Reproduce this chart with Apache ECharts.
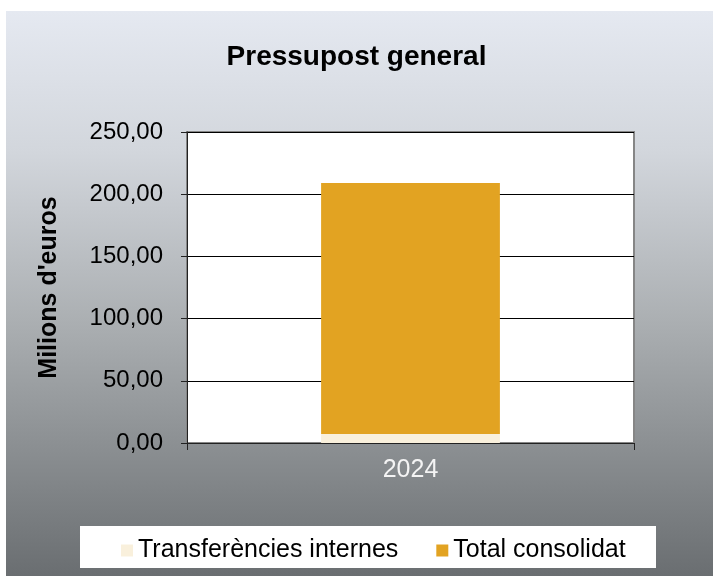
<!DOCTYPE html>
<html>
<head>
<meta charset="utf-8">
<script src="https://cdn.jsdelivr.net/npm/echarts@6/dist/echarts.min.js"></script>
<style>
	html, body { margin: 0; padding: 0; background: #fff; }
	#chart { width: 713px; height: 576px; }
</style>
</head>
<body>
<div id="chart"></div>
<script>
	var years = ['2024'];
	var seriesNames = ['Transferències internes', 'Total consolidat'];
	var transferencies = [7.2];
	var totalConsolidat = [201.8];
	var yTicks = [0, 50, 100, 150, 200, 250];

	var font = '"Liberation Sans", Arial, sans-serif';

	function fmt(v) { return v.toFixed(2).replace('.', ','); }

	var chart = echarts.init(document.getElementById('chart'));
	chart.setOption({
		animation: false,
		textStyle: { fontFamily: font },
		graphic: [
			{
				type: 'rect', z: -10, silent: true,
				shape: { x: 6, y: 11, width: 707, height: 565 },
				style: {
					fill: {
						type: 'linear', x: 0, y: 0, x2: 0, y2: 1,
						colorStops: [
							{ offset: 0, color: '#e5e9f1' },
							{ offset: 0.25, color: '#d2d6dc' },
							{ offset: 0.55, color: '#abafb2' },
							{ offset: 1, color: '#6a6e71' }
						]
					}
				}
			},
			{
				type: 'rect', z: 1, silent: true,
				shape: { x: 80, y: 526, width: 576, height: 42 },
				style: { fill: '#ffffff' }
			}
		],
		title: {
			text: 'Pressupost general',
			left: 'center',
			top: 38,
			textStyle: { fontFamily: font, fontSize: 28, fontWeight: 'bold', color: '#000' }
		},
		legend: {
			data: seriesNames,
			top: 533,
			left: 116,
			itemWidth: 12,
			itemHeight: 12,
			itemGap: 38,
			icon: 'rect',
			textStyle: { fontFamily: font, fontSize: 25, color: '#000' }
		},
		grid: {
			left: 187, right: 79, top: 132, bottom: 133,
			show: true,
			backgroundColor: '#ffffff',
			borderColor: '#868686',
			borderWidth: 2
		},
		xAxis: {
			type: 'category',
			data: years,
			axisLine: { lineStyle: { color: '#222', width: 1 } },
			axisTick: { show: true, length: 7, lineStyle: { color: '#222' } },
			axisLabel: { fontFamily: font, fontSize: 25, color: '#f4f4f4', margin: 15 }
		},
		yAxis: {
			type: 'value',
			min: yTicks[0],
			max: yTicks[yTicks.length - 1],
			interval: 50,
			name: "Milions d'euros",
			nameLocation: 'middle',
			nameGap: 125,
			nameTextStyle: { fontFamily: font, fontSize: 25, fontWeight: 'bold', color: '#000' },
			axisLine: { show: true, lineStyle: { color: '#222', width: 1 } },
			axisTick: { show: true, length: 6, lineStyle: { color: '#222' } },
			axisLabel: { fontFamily: font, fontSize: 24, color: '#000', margin: 24, formatter: fmt },
			splitLine: { show: true, lineStyle: { color: '#000', width: 1 } }
		},
		series: [
			{
				name: seriesNames[0],
				type: 'bar',
				stack: 'total',
				barWidth: '40%',
				data: transferencies,
				itemStyle: { color: '#f9f0dc' }
			},
			{
				name: seriesNames[1],
				type: 'bar',
				stack: 'total',
				barWidth: '40%',
				data: totalConsolidat,
				itemStyle: { color: '#e2a322' }
			}
		]
	});
</script>
</body>
</html>
